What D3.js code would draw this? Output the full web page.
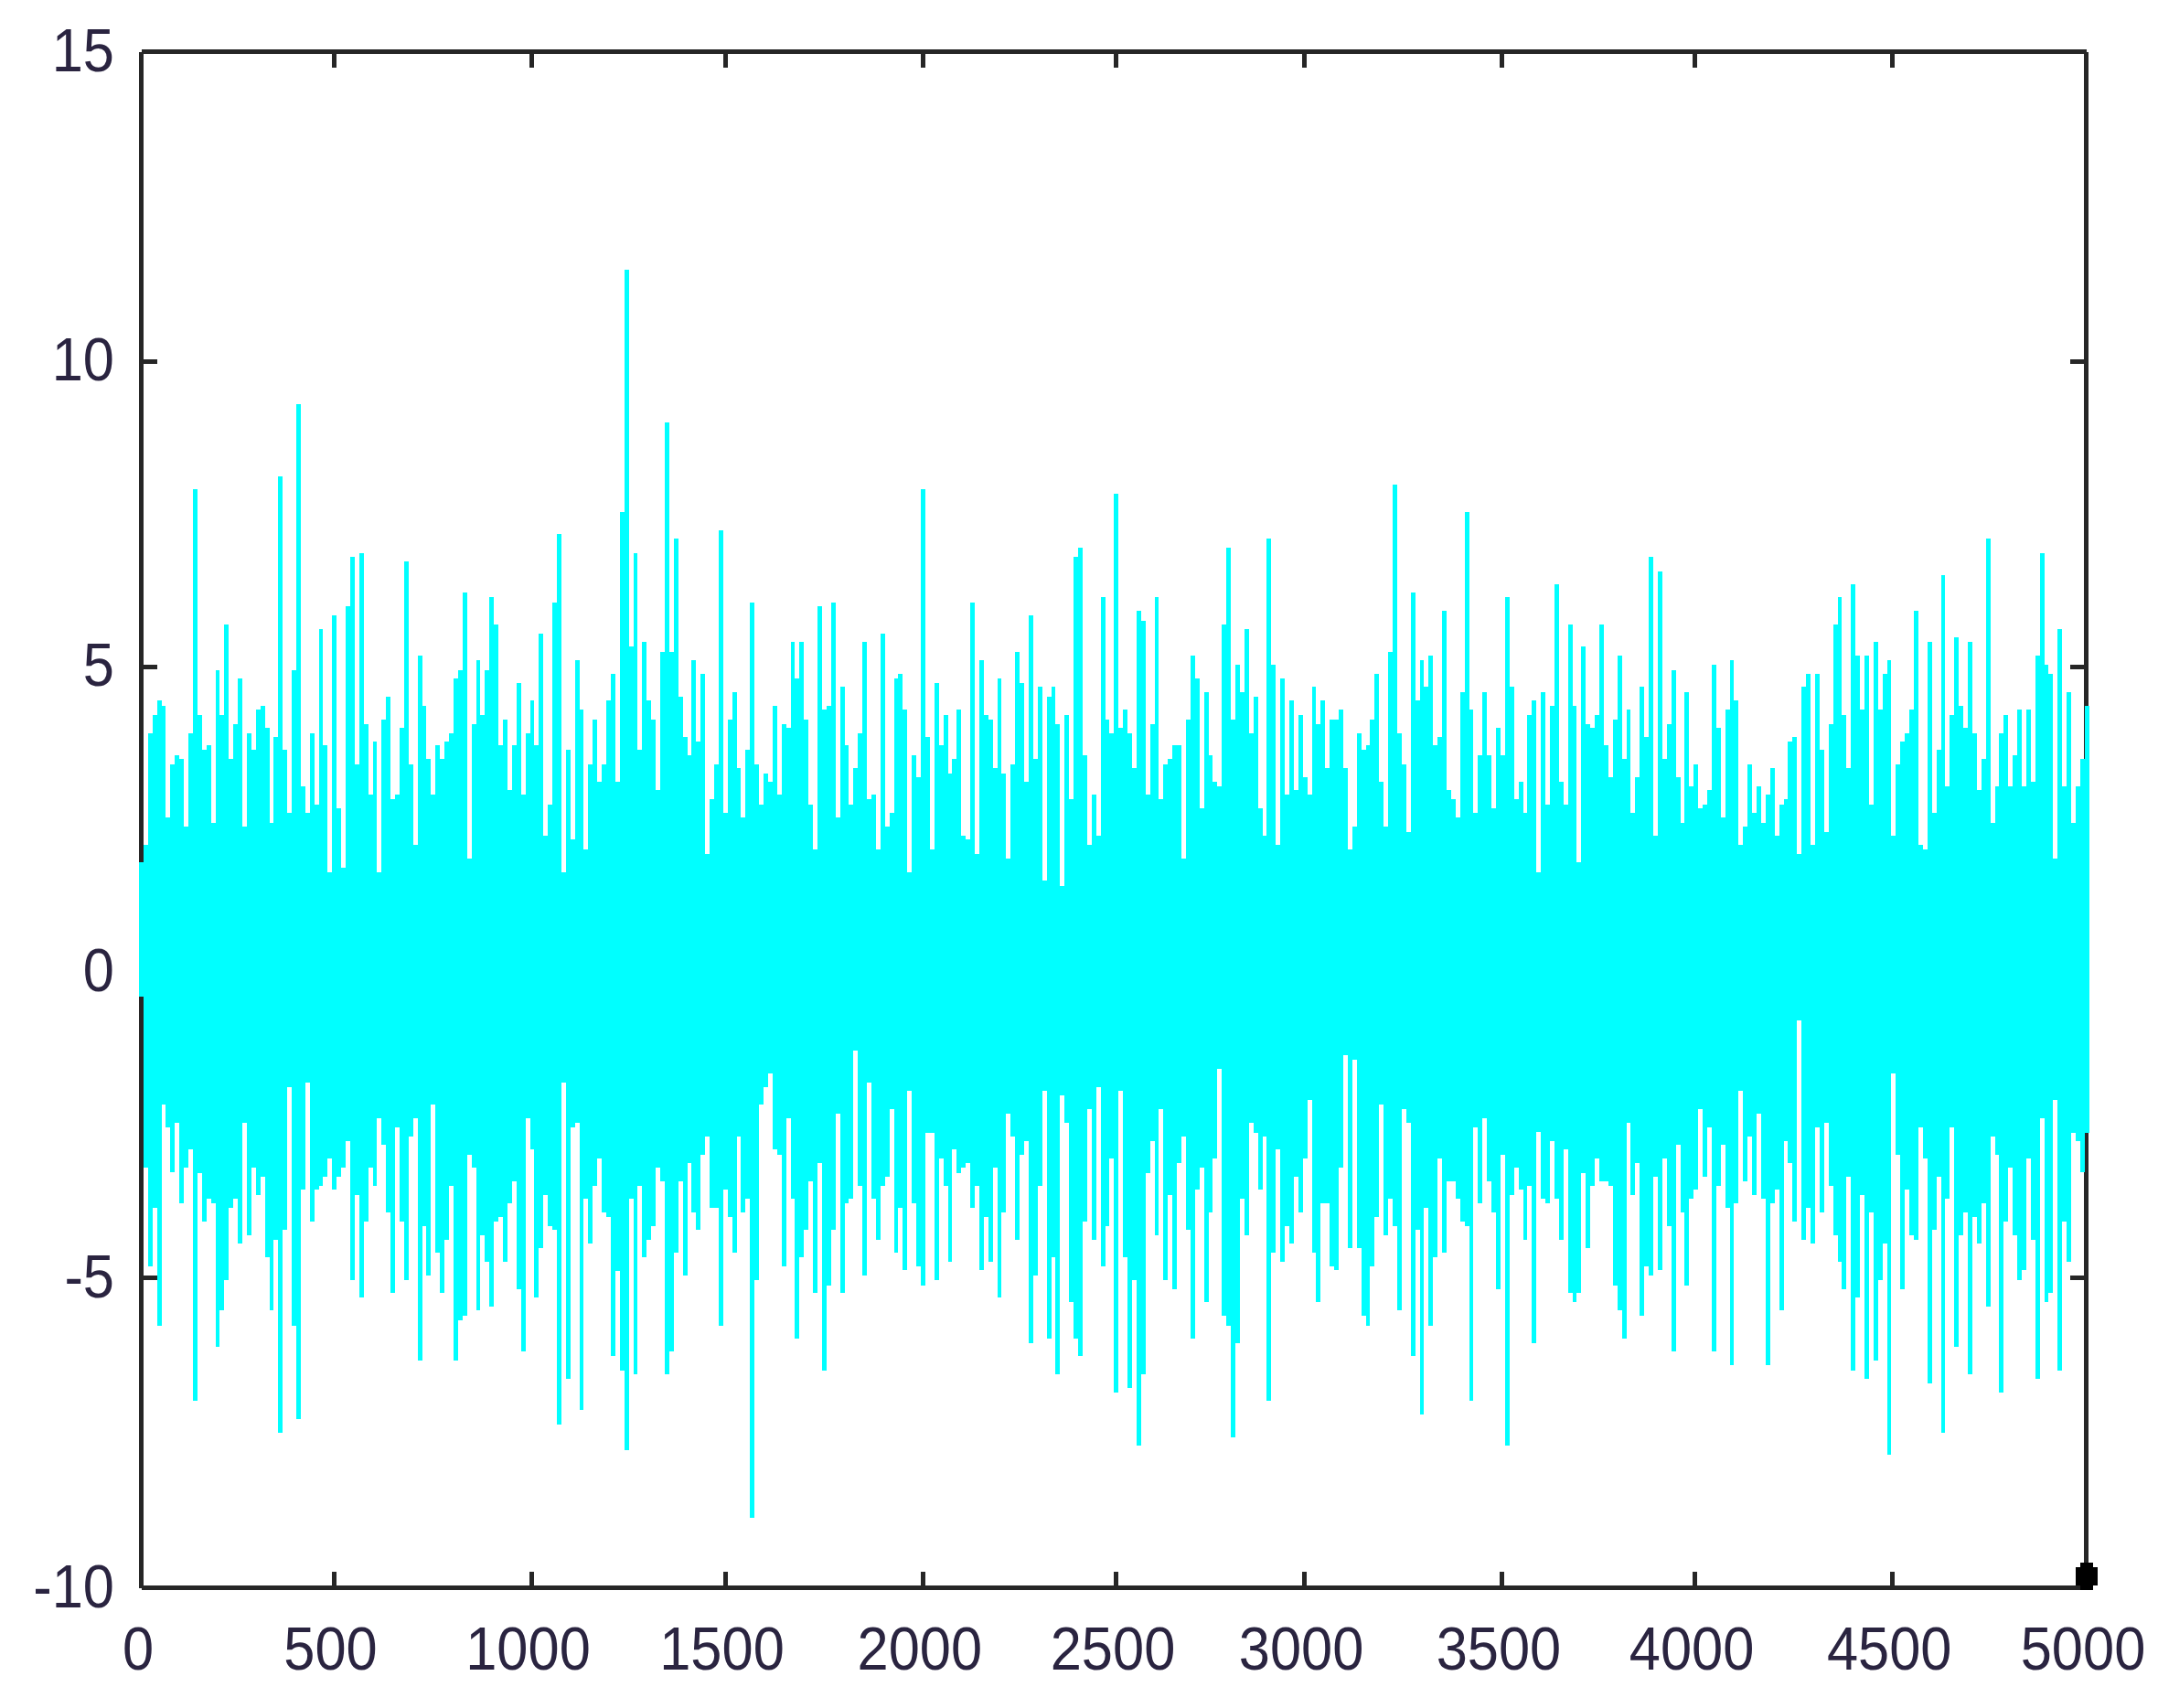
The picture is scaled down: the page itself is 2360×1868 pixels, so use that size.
<!DOCTYPE html>
<html>
<head>
<meta charset="utf-8">
<script src="https://cdnjs.cloudflare.com/ajax/libs/d3/7.8.5/d3.min.js"></script>
<style>
html,body{margin:0;padding:0;background:#fff;}
svg{display:block;}
</style>
</head>
<body>
<svg id="chart" width="2360" height="1868"></svg>
<script>
const xTickValues = [0,500,1000,1500,2000,2500,3000,3500,4000,4500,5000];
const xTickLabels = ["0","500","1000","1500","2000","2500","3000","3500","4000","4500","5000"];
const yTickValues = [-10,-5,0,5,10,15];
const yTickLabels = ["-10","-5","0","5","10","15"];
const endPoint = [5000,-9.82];

const upperEnvelope = [
1.80,2.09,3.92,4.22,4.45,4.37,2.53,3.41,3.56,3.49,
2.39,3.92,7.91,4.22,3.64,3.72,2.45,4.95,4.22,5.69,
3.49,4.07,4.81,2.39,3.92,3.64,4.30,4.37,4.00,2.45,
3.86,8.12,3.64,2.61,4.95,9.30,3.04,2.61,3.92,2.75,
5.62,3.72,1.64,5.84,2.68,1.72,5.99,6.80,3.41,6.87,
4.07,2.91,3.78,1.64,4.14,4.52,2.83,2.91,4.00,6.73,
3.41,2.09,5.18,4.37,3.49,2.91,3.72,3.49,3.78,3.92,
4.81,4.95,6.22,1.87,4.07,5.11,4.22,4.95,6.14,5.69,
3.72,4.14,2.98,3.72,4.73,2.91,3.92,4.45,3.72,5.54,
2.23,2.75,6.06,7.17,1.64,3.64,2.17,5.11,4.30,2.02,
3.41,4.14,3.12,3.41,4.45,4.88,3.12,7.53,11.48,5.33,
6.87,3.64,5.41,4.45,4.14,2.98,5.25,9.00,5.25,7.10,
4.52,3.86,3.56,5.11,3.78,4.88,1.94,2.83,3.41,7.23,
2.61,4.14,4.59,3.35,2.53,3.64,6.06,3.41,2.75,3.26,
3.12,4.37,2.91,4.07,4.00,5.41,4.81,5.41,4.14,2.75,
2.02,5.99,4.30,4.37,6.06,2.53,4.67,3.72,2.75,3.35,
3.92,5.41,2.83,2.91,2.02,5.54,2.39,2.61,4.81,4.88,
4.30,1.64,3.56,3.20,7.91,3.86,2.02,4.73,3.72,4.22,
3.26,3.49,4.30,2.23,2.17,6.06,1.94,5.11,4.22,4.14,
3.35,4.81,3.26,1.87,3.41,5.25,4.73,3.12,5.84,3.49,
4.67,1.50,4.52,4.67,4.07,1.42,4.22,2.83,6.80,6.95,
3.56,2.09,2.91,2.23,6.14,4.14,3.92,7.84,4.00,4.30,
3.92,3.35,5.92,5.76,2.91,4.07,6.14,2.83,3.41,3.49,
3.72,3.72,1.87,4.14,5.18,4.81,2.68,4.59,3.56,3.12,
3.04,5.69,6.95,4.14,5.03,4.59,5.62,3.92,4.52,2.68,
2.23,7.10,5.03,2.09,4.81,2.91,4.45,2.98,4.22,3.20,
2.91,4.67,4.07,4.45,3.35,4.14,4.14,4.30,3.35,2.02,
2.39,3.92,3.64,3.72,4.14,4.88,3.12,2.39,5.25,7.98,
3.92,3.41,2.30,6.22,4.45,5.11,4.67,5.18,3.72,3.86,
5.92,2.98,2.83,2.53,4.59,7.53,4.30,2.61,3.56,4.59,
3.56,2.68,4.00,3.56,6.14,4.67,2.83,3.12,2.61,4.22,
4.45,1.64,4.59,2.75,4.37,6.35,3.12,2.75,5.69,4.37,
1.80,5.33,4.07,4.00,4.22,5.69,3.72,3.20,4.14,5.18,
3.49,4.30,2.61,3.20,4.67,3.86,6.80,2.23,6.57,3.49,
4.07,4.95,3.20,2.45,4.59,3.04,3.41,2.68,2.75,2.98,
5.03,4.00,2.53,4.30,5.11,4.45,2.09,2.39,3.41,2.61,
3.04,2.45,2.91,3.35,2.23,2.75,2.83,3.78,3.86,1.94,
4.67,4.88,2.09,4.88,3.64,2.30,4.07,5.69,6.14,4.22,
3.35,6.35,5.18,4.30,5.18,2.75,5.41,4.30,4.88,5.11,
2.23,3.41,3.78,3.92,4.30,5.92,2.09,2.02,5.41,2.61,
3.64,6.50,3.04,4.22,5.48,4.37,4.00,5.41,3.92,2.98,
3.49,7.10,2.45,3.04,3.92,4.22,3.04,3.56,4.30,3.04,
4.30,3.12,5.18,6.87,5.03,4.88,1.87,5.62,3.04,4.59,
2.45,3.04,3.49,4.37];

const lowerEnvelope = [
-0.40,-3.20,-4.81,-3.86,-5.77,-2.16,-2.54,-3.27,-2.47,-3.78,
-3.20,-2.90,-6.99,-3.28,-4.08,-3.71,-3.78,-6.12,-5.53,-5.03,
-3.86,-3.71,-4.44,-2.47,-4.30,-3.20,-3.64,-3.35,-4.66,-5.53,
-4.38,-7.50,-4.22,-1.88,-5.77,-7.28,-3.56,-1.80,-4.08,-3.56,
-3.50,-3.35,-3.05,-3.56,-3.35,-3.20,-2.76,-5.03,-3.64,-5.32,
-4.08,-3.20,-3.49,-2.39,-2.82,-3.93,-5.25,-2.54,-4.08,-5.03,
-2.69,-2.39,-6.34,-4.15,-4.96,-2.16,-4.59,-5.25,-4.38,-3.49,
-6.34,-5.69,-5.61,-2.98,-3.20,-5.53,-4.30,-4.74,-5.46,-4.08,
-4.01,-4.74,-3.78,-3.42,-5.19,-6.19,-2.39,-2.90,-5.32,-4.52,
-3.64,-4.15,-4.22,-7.36,-1.80,-6.63,-2.54,-2.47,-7.13,-3.71,
-4.44,-3.49,-3.05,-3.93,-4.01,-6.26,-4.89,-6.49,-7.78,-3.71,
-6.56,-3.49,-4.66,-4.38,-4.15,-3.20,-3.42,-6.56,-6.19,-4.59,
-3.42,-4.96,-3.12,-3.93,-4.22,-2.98,-2.69,-3.86,-3.86,-5.77,
-3.56,-4.01,-4.59,-2.69,-3.93,-3.71,-8.87,-5.03,-2.16,-1.88,
-1.66,-2.90,-2.98,-4.81,-2.39,-3.71,-5.98,-4.66,-4.22,-3.42,
-5.25,-3.12,-6.49,-5.12,-4.22,-2.32,-5.25,-3.78,-3.71,-1.28,
-3.49,-4.96,-1.80,-3.71,-4.38,-3.49,-3.35,-2.24,-4.59,-3.86,
-4.88,-1.94,-3.78,-4.81,-5.12,-2.62,-2.62,-5.03,-3.05,-3.49,
-4.74,-2.90,-3.28,-3.20,-3.12,-3.86,-3.49,-4.88,-4.01,-4.74,
-3.20,-5.32,-3.93,-2.32,-2.69,-4.38,-2.98,-2.76,-6.05,-4.96,
-3.49,-1.94,-5.98,-4.66,-6.56,-2.02,-2.47,-5.39,-5.98,-6.26,
-4.08,-2.24,-4.38,-1.88,-4.81,-4.15,-3.05,-6.85,-1.94,-4.66,
-6.78,-5.03,-7.71,-6.56,-3.28,-2.76,-4.30,-2.24,-5.03,-3.64,
-5.19,-3.12,-2.69,-4.22,-5.98,-3.56,-3.20,-5.39,-3.93,-3.05,
-1.58,-5.61,-5.77,-7.57,-6.05,-3.71,-4.30,-2.47,-2.62,-3.56,
-2.69,-6.99,-4.59,-2.90,-4.74,-4.15,-4.44,-3.35,-3.93,-3.05,
-2.09,-4.59,-5.39,-3.78,-3.78,-4.81,-4.88,-3.20,-1.36,-4.52,
-1.43,-4.52,-5.61,-5.77,-4.81,-4.01,-2.16,-4.30,-3.71,-4.15,
-5.53,-2.24,-2.47,-6.26,-4.22,-7.21,-3.86,-5.77,-4.66,-3.05,
-4.59,-3.42,-3.42,-3.71,-4.08,-4.15,-6.99,-2.54,-3.78,-2.39,
-3.42,-3.93,-5.19,-2.98,-7.71,-3.64,-3.20,-3.56,-4.38,-3.49,
-6.05,-2.61,-3.71,-3.78,-2.76,-3.71,-4.38,-2.90,-5.25,-5.39,
-5.25,-3.28,-4.52,-3.49,-3.05,-3.42,-3.42,-3.49,-5.12,-5.53,
-5.98,-2.47,-3.64,-3.12,-5.61,-4.81,-4.96,-3.35,-4.88,-3.05,
-4.15,-6.19,-2.82,-3.93,-5.12,-3.71,-3.56,-2.24,-3.35,-2.54,
-6.19,-3.49,-2.82,-3.86,-6.41,-3.78,-1.94,-3.42,-2.69,-3.64,
-2.32,-3.71,-6.41,-3.78,-3.56,-5.53,-2.76,-3.12,-4.08,-0.78,
-4.38,-3.86,-4.44,-2.54,-3.93,-2.47,-3.49,-4.30,-4.74,-5.19,
-3.35,-6.49,-5.32,-3.64,-6.63,-3.93,-6.34,-5.03,-4.44,-7.85,
-1.66,-2.98,-5.19,-3.56,-4.30,-4.38,-2.54,-3.05,-6.71,-4.22,
-3.35,-7.50,-3.71,-2.54,-6.12,-4.30,-3.93,-6.56,-4.01,-4.44,
-3.78,-5.46,-2.69,-2.98,-6.85,-4.08,-3.20,-4.30,-5.03,-4.88,
-3.05,-4.38,-6.63,-2.39,-5.39,-5.25,-2.09,-6.49,-4.08,-4.74,
-2.62,-2.76,-3.27,-2.62];

const AXIS_COLOR = "#262626", TEXT_COLOR = "#2a2440", FILL = "#00ffff";
const svg = d3.select("#chart");

// Source raster rounds its ticks to a coarse pixel grid, hence the piecewise scales.
const x = d3.scaleLinear().domain(xTickValues)
  .range([154.5,365,581,793,1009.3,1220.5,1426.6,1642.4,1853.6,2069.7,2281.5]);
const y = d3.scaleLinear().domain([-10,-5,10,15]).range([1736.5,1397.5,395.4,56.5]);
const col = d3.scaleBand().domain(d3.range(upperEnvelope.length)).range([152,2284.7]);

const TICK = 17.5;
function style(g){
  g.selectAll("path.domain").attr("stroke",AXIS_COLOR).attr("stroke-width",5);
  g.selectAll(".tick line").attr("stroke",AXIS_COLOR).attr("stroke-width",5);
  g.attr("shape-rendering","crispEdges");
}
const fmt = (vals,labels) => v => labels[vals.indexOf(v)];

const bottom = svg.append("g").attr("transform",`translate(0,${y(-10)})`)
  .call(d3.axisBottom(x).tickValues(xTickValues).tickSizeInner(-TICK).tickSizeOuter(0).offset(0)
    .tickFormat(fmt(xTickValues,xTickLabels))).call(style);
const left = svg.append("g").attr("transform",`translate(${x(0)},0)`)
  .call(d3.axisLeft(y).tickValues(yTickValues).tickSizeInner(-TICK).tickSizeOuter(0).offset(0)
    .tickFormat(fmt(yTickValues,yTickLabels))).call(style);
svg.append("g").attr("transform",`translate(0,${y(15)})`)
  .call(d3.axisTop(x).tickValues(xTickValues).tickSizeInner(-TICK).tickSizeOuter(0).offset(0)
    .tickFormat("")).call(style);
svg.append("g").attr("transform",`translate(${x(5000)},0)`)
  .call(d3.axisRight(y).tickValues(yTickValues).tickSizeInner(-TICK).tickSizeOuter(0).offset(0)
    .tickFormat("")).call(style);

const NARROW = 0.93;
bottom.selectAll("text").attr("y",0).attr("dy",0)
  .attr("transform",`translate(-3.5,89.5) scale(${NARROW},1)`)
  .attr("text-anchor","middle");
left.selectAll("text").attr("x",0).attr("dy",21)
  .attr("transform",`translate(-29.5,0) scale(${NARROW},1)`)
  .attr("text-anchor","end");
svg.selectAll("g text")
  .style("font-family","'Liberation Sans',Arial,sans-serif")
  .style("font-size","66px")
  .attr("fill",TEXT_COLOR);

// Data columns, drawn over the frame as in the reference
svg.append("g").attr("shape-rendering","crispEdges").selectAll("rect")
  .data(d3.range(upperEnvelope.length))
  .join("rect")
  .attr("x",i=>col(i))
  .attr("width",col.bandwidth())
  .attr("y",i=>y(upperEnvelope[i]))
  .attr("height",i=>y(lowerEnvelope[i])-y(upperEnvelope[i]))
  .attr("fill",FILL);

// Terminal point marker: a blocky dot made of two crossing rectangles
const dot = svg.append("g").attr("shape-rendering","crispEdges").attr("fill","#000")
  .attr("transform",`translate(${x(endPoint[0])},${y(endPoint[1])})`);
dot.append("rect").attr("x",-12).attr("y",-10).attr("width",24).attr("height",20);
dot.append("rect").attr("x",-7).attr("y",-15).attr("width",14).attr("height",30);
</script>
</body>
</html>
